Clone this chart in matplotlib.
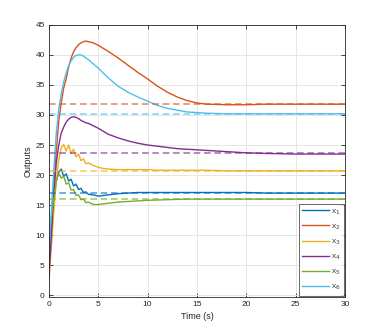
import matplotlib
matplotlib.use("Agg")
import matplotlib.pyplot as plt
import numpy as np

# time samples (s)
t = [0, 0.25, 0.5, 0.75, 1.0, 1.25, 1.5, 1.75, 2.0, 2.25, 2.5, 2.75, 3.0, 3.25,
     3.5, 3.75, 4.0, 4.5, 5, 5.5, 6, 7, 8, 9, 10, 11, 12, 13, 14, 15, 16, 18,
     20, 22, 25, 28, 30]

x1 = [6, 11, 16, 19, 20.5, 21.0, 19.8, 20.2, 19.0, 19.3, 18.2, 18.5, 17.6, 17.8,
      17.1, 17.2, 16.8, 16.7, 16.5, 16.6, 16.7, 16.9, 17.0, 17.1, 17.1, 17.1, 17.1,
      17.1, 17.1, 17.1, 17.1, 17.1, 17.1, 17.0, 17.0, 17.0, 17.0]
x2 = [3, 10, 18, 24, 29, 32, 34.5, 36, 38, 39.5, 40.5, 41.2, 41.7, 42.0,
      42.2, 42.3, 42.2, 42.0, 41.6, 41.1, 40.6, 39.5, 38.3, 37.1, 36.0, 34.8, 33.8,
      33.0, 32.4, 32.0, 31.8, 31.7, 31.7, 31.8, 31.8, 31.8, 31.8]
x3 = [2, 8, 14, 19, 22.5, 24.5, 25.1, 24.0, 25.0, 23.6, 24.3, 23.0, 23.5, 22.4,
      22.7, 21.9, 22.0, 21.6, 21.3, 21.1, 21.0, 20.9, 20.9, 20.9, 20.9, 20.8, 20.8,
      20.8, 20.8, 20.8, 20.8, 20.7, 20.7, 20.7, 20.7, 20.7, 20.7]
x4 = [3, 10, 17, 22, 25, 27, 28, 28.8, 29.3, 29.6, 29.7, 29.6, 29.4, 29.1,
      28.9, 28.7, 28.6, 28.2, 27.8, 27.3, 26.8, 26.2, 25.7, 25.3, 25.0, 24.8, 24.6,
      24.4, 24.3, 24.2, 24.1, 23.9, 23.7, 23.6, 23.5, 23.5, 23.5]
x5 = [10, 13, 16, 19, 20.3, 19.5, 19.8, 18.5, 18.7, 17.5, 17.6, 16.6, 16.7, 15.9,
      16.0, 15.4, 15.5, 15.1, 15.1, 15.2, 15.3, 15.5, 15.6, 15.7, 15.8, 15.85, 15.9,
      15.95, 16.0, 16.0, 16.0, 16.0, 16.0, 16.0, 16.0, 16.0, 16.0]
x6 = [7, 14, 21, 27, 31, 33.5, 35.5, 37, 38.2, 39, 39.6, 39.9, 40.0, 40.0,
      39.8, 39.5, 39.2, 38.5, 37.8, 37.0, 36.2, 34.8, 33.8, 33.0, 32.3, 31.6, 31.1,
      30.8, 30.5, 30.4, 30.3, 30.2, 30.2, 30.2, 30.2, 30.2, 30.2]

# steady-state references (dashed)
refs = [17.0, 31.8, 20.7, 23.6, 16.0, 30.1]

series = [x1, x2, x3, x4, x5, x6]
labels = ["x$_1$", "x$_2$", "x$_3$", "x$_4$", "x$_5$", "x$_6$"]
colors = ["#0072BD", "#D95319", "#EDB120", "#7E2F8E", "#77AC30", "#4DBEEE"]

plt.rcParams["font.family"] = ["Liberation Sans", "DejaVu Sans"]

fig = plt.figure(figsize=(3.82, 3.36), dpi=100)
ax = fig.add_axes([0.128, 0.116, 0.775, 0.810])

for y, c, lab in zip(series, colors, labels):
    ax.plot(t, y, color=c, lw=1.0, label=lab)
for r, c in zip(refs, colors):
    ax.plot([0, 30], [r, r], color=c, lw=1.2, ls=(0, (4, 2.2)), alpha=0.65)

ax.set_xlim(0, 30)
ax.set_ylim(-0.3, 45)
ax.set_xticks(np.arange(0, 31, 5))
ax.set_yticks(np.arange(0, 46, 5))
ax.grid(True, color="#e6e6e6", lw=0.7)
ax.set_axisbelow(True)
ax.tick_params(direction="in", length=3, width=0.6, labelsize=6,
               colors="#262626", top=True, right=True, pad=3)
for s in ax.spines.values():
    s.set_color("#262626")
    s.set_linewidth(0.6)
ax.set_xlabel("Time (s)", fontsize=6.5, color="#262626", labelpad=3)
ax.set_ylabel("Outputs", fontsize=6.5, color="#262626", labelpad=2)

leg = ax.legend(loc="lower right", fontsize=6, frameon=True, fancybox=False,
                edgecolor="#262626", handlelength=3.2, borderaxespad=0.15,
                labelspacing=0.68, handletextpad=0.25, borderpad=0.4)
leg.get_frame().set_linewidth(0.6)
for txt in leg.get_texts():
    txt.set_color("#404040")

fig.savefig("out.png", dpi=100)
